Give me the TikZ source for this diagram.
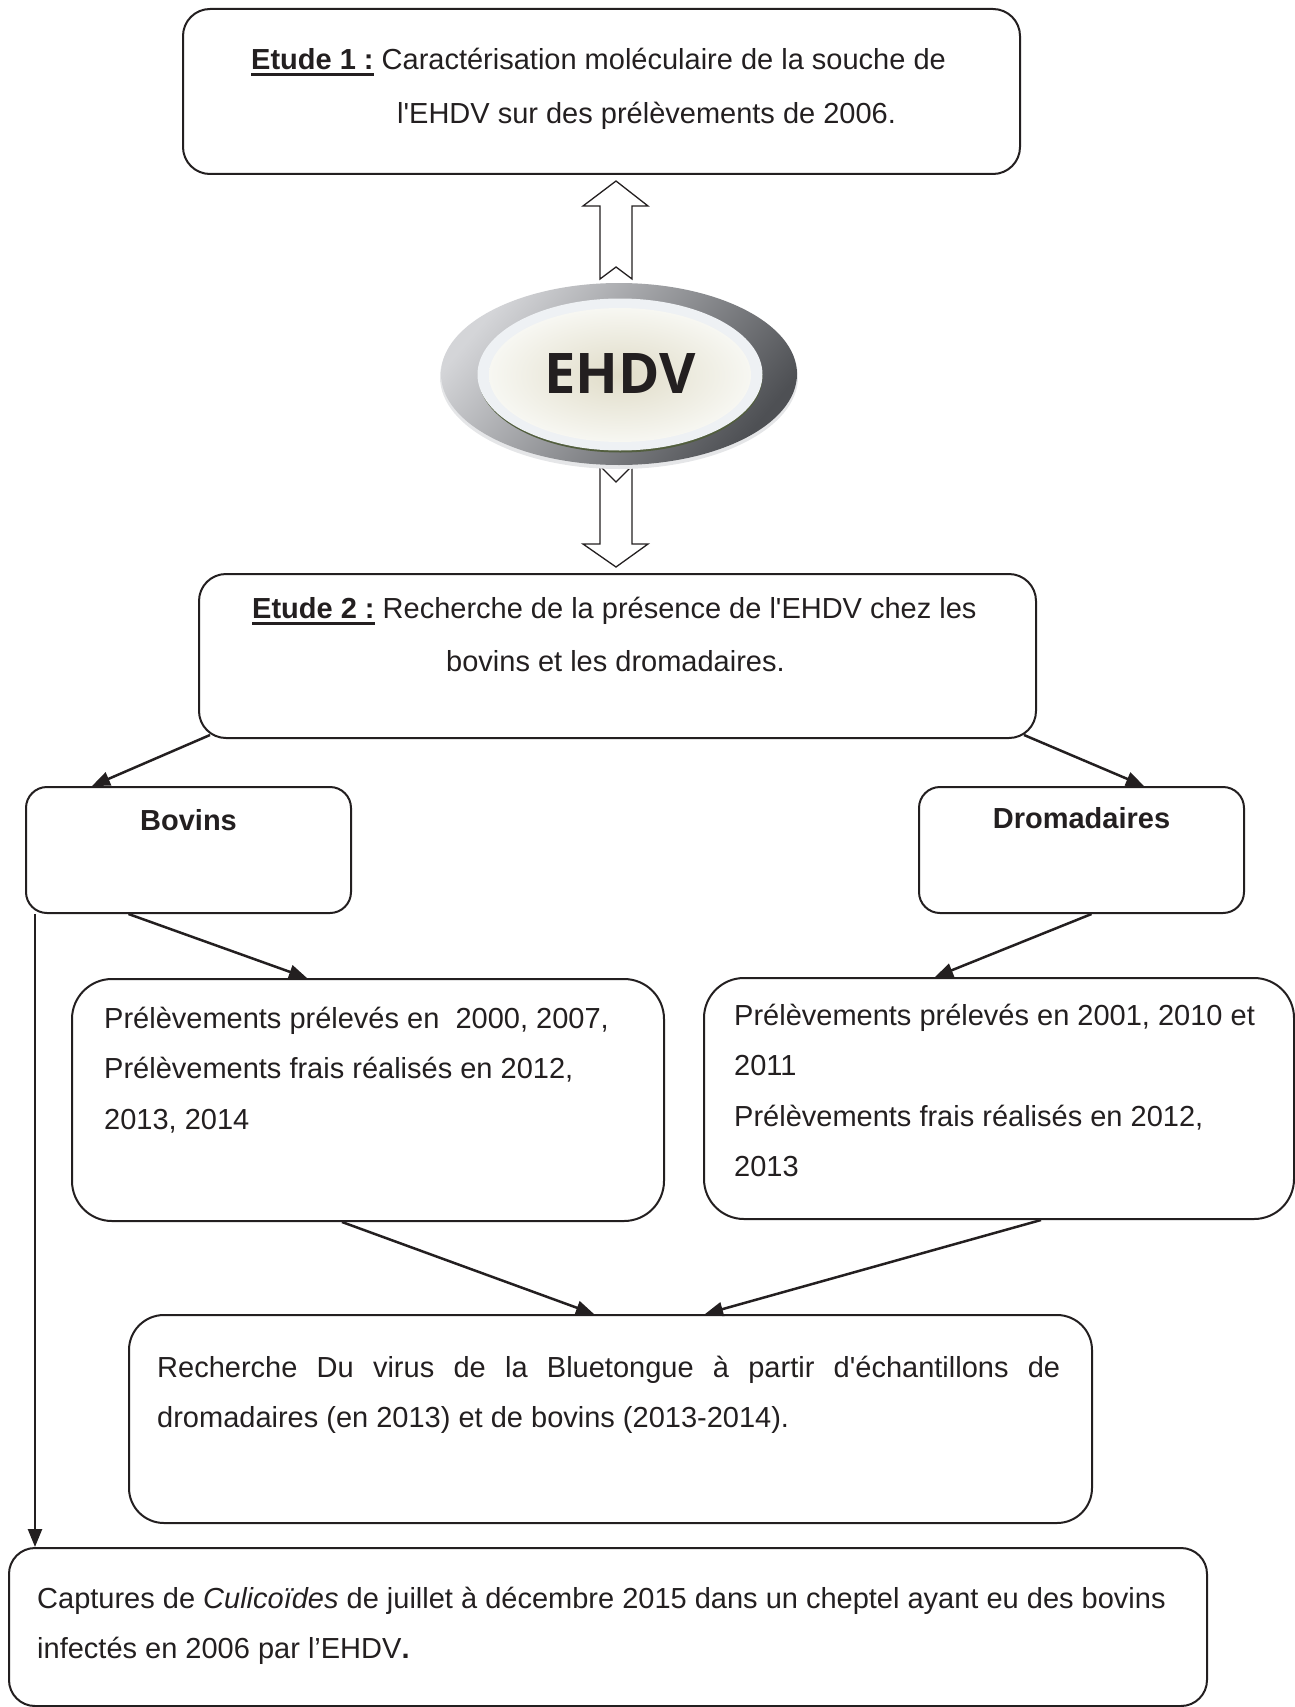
\documentclass[tikz,border=0pt]{standalone}
\usepackage{fontspec}
\setmainfont{Liberation Sans}
\newfontfamily\ehdvfont{Open Sans}
\usepackage{tikz}
\usetikzlibrary{arrows.meta, positioning, calc}
\definecolor{inkgray}{RGB}{35,31,32}
\definecolor{ringlight}{RGB}{212,213,216}
\definecolor{ringdark}{RGB}{78,80,84}
\definecolor{rimwhite}{RGB}{238,241,244}
\definecolor{coreedge}{RGB}{247,247,242}
\definecolor{corecentre}{RGB}{224,220,200}
\definecolor{rimgreen}{RGB}{82,94,62}
\newcommand{\etudeul}[1]{\sbox0{#1}\rlap{\rule[-7pt]{\wd0}{3pt}}\usebox0}

\begin{document}
\begin{tikzpicture}[x=1pt, y=-1pt, font=\fontsize{29}{50.5}\selectfont,
  roundbox/.style={draw=inkgray, line width=2pt, rectangle, anchor=north west, inner sep=0pt},
  boxtext/.style={anchor=north west, align=left, inner sep=0pt, text=inkgray},
  link/.style={draw=inkgray, line width=2.5pt, -{Triangle[length=18pt,width=14pt]}},
  blockarrow/.style={draw=inkgray, line width=1.3pt, fill=white, line join=miter}]
\useasboundingbox (0,0) rectangle (1294,1707);

\node[roundbox, rounded corners=27pt, minimum width=837pt, minimum height=165pt] (etudeA) at (182,8) {};
\node[roundbox, rounded corners=27pt, minimum width=837pt, minimum height=164pt] (etudeB) at (198,573) {};
\node[roundbox, rounded corners=21pt, minimum width=325pt, minimum height=126pt] (bovins) at (25,786) {};
\node[roundbox, rounded corners=21pt, minimum width=325pt, minimum height=126pt] (drom) at (918,786) {};
\node[roundbox, rounded corners=40pt, minimum width=592pt, minimum height=242pt] (bovprel) at (71,978) {};
\node[roundbox, rounded corners=40pt, minimum width=590pt, minimum height=241pt] (dromprel) at (703,977) {};
\node[roundbox, rounded corners=35pt, minimum width=963pt, minimum height=208pt] (recherche) at (128,1314) {};
\node[roundbox, rounded corners=26pt, minimum width=1198pt, minimum height=158pt] (captures) at (8,1547) {};

\node[boxtext, font=\fontsize{29}{54.5}\selectfont] (etudeAtxt) at ($(etudeA.north west)+(69,37)$) {\rule{0pt}{24pt}\etudeul{\textbf{Etude 1 :}} Caractérisation moléculaire de la souche de\\\hspace*{146pt}l\textquotesingle EHDV sur des prélèvements de 2006.};
\node[boxtext, font=\fontsize{29}{53.5}\selectfont] (etudeBtxt) at ($(etudeB.north west)+(54,21)$) {\rule{0pt}{24pt}\etudeul{\textbf{Etude 2 :}} Recherche de la présence de l\textquotesingle EHDV chez les\\\hspace*{194pt}bovins et les dromadaires.};
\node[anchor=base, text=inkgray, font=\fontsize{29}{50.5}\selectfont\bfseries] (bovinstxt) at ($(bovins.north)+(0,44)$) {Bovins};
\node[anchor=base, text=inkgray, font=\fontsize{29}{50.5}\selectfont\bfseries] (dromtxt) at ($(drom.north)+(0,42)$) {Dromadaires};
\node[boxtext] (bovpreltxt) at ($(bovprel.north west)+(33,26)$) {\rule{0pt}{24pt}Prélèvements prélevés en \ 2000, 2007,\\Prélèvements frais réalisés en 2012,\\2013, 2014};
\node[boxtext] (dromprelrtxt) at ($(dromprel.north west)+(31,24)$) {\rule{0pt}{24pt}Prélèvements prélevés en 2001, 2010 et\\2011\\Prélèvements frais réalisés en 2012,\\2013};
\node[boxtext] (recherchetxt) at ($(recherche.north west)+(29,39)$) {\rule{0pt}{24pt}\makebox[903pt][s]{Recherche Du virus de la Bluetongue à partir d\textquotesingle échantillons de}\\dromadaires (en 2013) et de bovins (2013-2014).};
\node[boxtext] (capturestxt) at ($(captures.north west)+(29,37)$) {\rule{0pt}{24pt}Captures de \textit{Culicoïdes} de juillet à décembre 2015 dans un cheptel ayant eu des bovins\\infectés en 2006 par l’EHDV\textbf{.}};

\draw[blockarrow] (616,181) -- (648,206) -- (632,206) -- (632,279) -- (616,267) -- (600,279) -- (600,206) -- (583,206) -- cycle;
\draw[blockarrow] (600,466) -- (616,482) -- (632,466) -- (632,544) -- (648,544) -- (616,567) -- (583,544) -- (600,544) -- cycle;

\fill[ringlight!60!white] (619,377) ellipse [x radius=179, y radius=92];
\shade[top color=ringlight, bottom color=ringdark, shading angle=50] (619,374) ellipse [x radius=178, y radius=91];
\fill[rimgreen] (620.5,376.5) ellipse [x radius=142, y radius=76];
\fill[rimwhite] (620,374.5) ellipse [x radius=142.5, y radius=76];
\shade[inner color=corecentre, outer color=coreedge] (620,375) ellipse [x radius=131, y radius=67];
\node[anchor=base, text=inkgray, font=\ehdvfont\bfseries\fontsize{56}{60}\selectfont] (ehdv) at (620,393) {EHDV};

\draw[link] ([xshift=12pt,yshift=4pt]etudeB.south west) -- ([xshift=67pt]bovins.north west);
\draw[link] ([xshift=-13pt,yshift=4pt]etudeB.south east) -- ([xshift=-101pt]drom.north east);
\draw[link] ([xshift=-60pt]bovins.south) -- ([xshift=236pt]bovprel.north west);
\draw[link] ([xshift=10pt]drom.south) -- ([xshift=232pt]dromprel.north west);
\draw[link] ([xshift=271pt]bovprel.south west) -- ([xshift=466pt]recherche.north west);
\draw[link] ([xshift=338pt]dromprel.south west) -- ([xshift=577pt]recherche.north west);
\draw[link] ([xshift=10pt]bovins.south west) -- ([xshift=27pt]captures.north west);
\end{tikzpicture}
\end{document}
